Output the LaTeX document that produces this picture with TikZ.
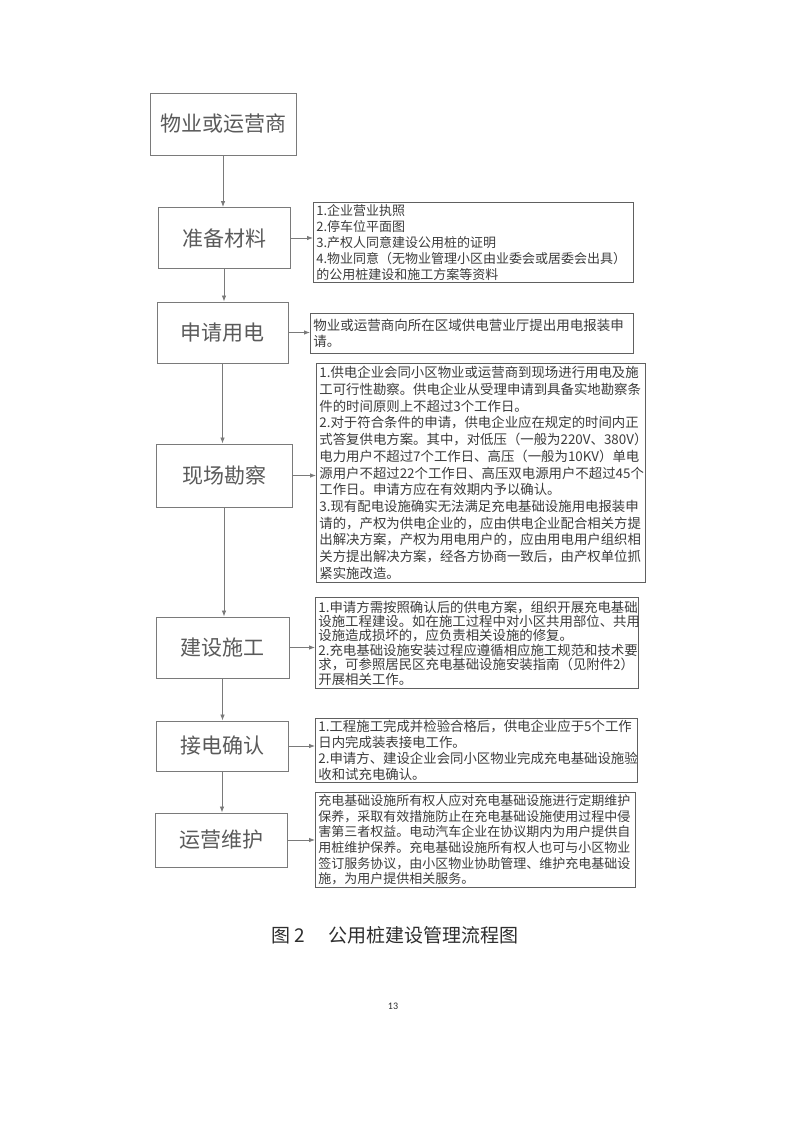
\documentclass[tikz,border=0pt]{standalone}
\usepackage{fontspec}
\setmainfont{Noto Sans CJK SC}
\newfontfamily\pgnumfont{Carlito}
\usetikzlibrary{arrows.meta}
\definecolor{boxc}{HTML}{7A7A7A}
\definecolor{tboxc}{HTML}{606060}
\definecolor{maintxt}{HTML}{5A5A5A}
\definecolor{bodytxt}{HTML}{3C3C3C}
\definecolor{captxt}{HTML}{2E2E2E}
\tikzset{
  mainbox/.style={draw=boxc, line width=0.9pt, text=maintxt, inner sep=0pt,
    font=\fontsize{21}{25}\selectfont},
  textbox/.style={draw=tboxc, line width=0.8pt, text=bodytxt, align=left,
    inner xsep=3pt, inner ysep=0pt, anchor=north west},
  flowarrow/.style={draw=boxc, line width=0.8pt, -{Latex[length=6pt,width=4.5pt]}}
}
\begin{document}
\begin{tikzpicture}[x=1pt,y=-1pt]
\useasboundingbox (0,0) rectangle (800,1131);
\fill[white] (0,0) rectangle (800,1131);

% main boxes
\node[mainbox, minimum width=146pt, minimum height=62pt] (m1) at (223,124) {物业或运营商};
\node[mainbox, minimum width=132pt, minimum height=61pt] (m2) at (224,238) {准备材料};
\node[mainbox, minimum width=131pt, minimum height=61pt] (m3) at (222.5,332.5) {申请用电};
\node[mainbox, minimum width=136pt, minimum height=63pt] (m4) at (224,475.5) {现场勘察};
\node[mainbox, minimum width=133pt, minimum height=61pt] (m5) at (222.5,647.5) {建设施工};
\node[mainbox, minimum width=132pt, minimum height=50pt] (m6) at (222,746) {接电确认};
\node[mainbox, minimum width=132pt, minimum height=54pt] (m7) at (221,840) {运营维护};

% text boxes
\node[textbox, text width=314pt, minimum height=80pt, font=\fontsize{13}{16}\selectfont] (t1) at (313,202)
{1.企业营业执照\\
2.停车位平面图\\
3.产权人同意建设公用桩的证明\\
4.物业同意（无物业管理小区由业委会或居委会出具）\\
的公用桩建设和施工方案等资料};

\node[textbox, text width=317pt, minimum height=40pt, font=\fontsize{13.5}{16.7}\selectfont] (t2) at (310,313)
{物业或运营商向所在区域供电营业厅提出用电报装申\\
请。};

\node[textbox, text width=323pt, minimum height=219pt, font=\fontsize{13.4}{16.7}\selectfont] (t3) at (316,363)
{1.供电企业会同小区物业或运营商到现场进行用电及施\\
工可行性勘察。供电企业从受理申请到具备实地勘察条\\
件的时间原则上不超过3个工作日。\\
2.对于符合条件的申请，供电企业应在规定的时间内正\\
式答复供电方案。其中，对低压（一般为220V、380V）\\
电力用户不超过7个工作日、高压（一般为10KV）单电\\
源用户不超过22个工作日、高压双电源用户不超过45个\\
工作日。申请方应在有效期内予以确认。\\
3.现有配电设施确实无法满足充电基础设施用电报装申\\
请的，产权为供电企业的，应由供电企业配合相关方提\\
出解决方案，产权为用电用户的，应由用电用户组织相\\
关方提出解决方案，经各方协商一致后，由产权单位抓\\
紧实施改造。};

\node[textbox, text width=317pt, minimum height=91pt, font=\fontsize{13.4}{14.4}\selectfont] (t4) at (315,597)
{1.申请方需按照确认后的供电方案，组织开展充电基础\\
设施工程建设。如在施工过程中对小区共用部位、共用\\
设施造成损坏的，应负责相关设施的修复。\\
2.充电基础设施安装过程应遵循相应施工规范和技术要\\
求，可参照居民区充电基础设施安装指南（见附件2）\\
开展相关工作。};

\node[textbox, text width=316pt, minimum height=64pt, font=\fontsize{13.4}{16}\selectfont] (t5) at (315,718)
{1.工程施工完成并检验合格后，供电企业应于5个工作\\
日内完成装表接电工作。\\
2.申请方、建设企业会同小区物业完成充电基础设施验\\
收和试充电确认。};

\node[textbox, text width=314pt, minimum height=95pt, font=\fontsize{13}{15.7}\selectfont] (t6) at (315,792)
{充电基础设施所有权人应对充电基础设施进行定期维护\\
保养，采取有效措施防止在充电基础设施使用过程中侵\\
害第三者权益。电动汽车企业在协议期内为用户提供自\\
用桩维护保养。充电基础设施所有权人也可与小区物业\\
签订服务协议，由小区物业协助管理、维护充电基础设\\
施，为用户提供相关服务。};

% vertical arrows
\draw[flowarrow] (m1.south) -- (m1.south |- m2.north);
\draw[flowarrow] (m2.south) -- (m2.south |- m3.north);
\draw[flowarrow] (m3.south) -- (m3.south |- m4.north);
\draw[flowarrow] (m4.south) -- (m4.south |- m5.north);
\draw[flowarrow] (m5.south) -- (m5.south |- m6.north);
\draw[flowarrow] (m6.south) -- (m6.south |- m7.north);

% horizontal arrows
\draw[flowarrow] (m2.east) -- (m2.east -| t1.west);
\draw[flowarrow] (m3.east) -- (m3.east -| t2.west);
\draw[flowarrow] (m4.east) -- (m4.east -| t3.west);
\draw[flowarrow] (m5.east) -- (m5.east -| t4.west);
\draw[flowarrow] (m6.east) -- (m6.east -| t5.west);
\draw[flowarrow] (m7.east) -- (m7.east -| t6.west);

% caption and page number
\node[text=captxt, font=\fontsize{19}{22}\selectfont, inner sep=0pt] (cap) at (395,935)
{图 2\hspace{1.2em}公用桩建设管理流程图};
\node[text=captxt, font=\pgnumfont\fontsize{10}{12}\selectfont, inner sep=0pt] (pg) at (393,1006) {13};
\end{tikzpicture}
\end{document}
